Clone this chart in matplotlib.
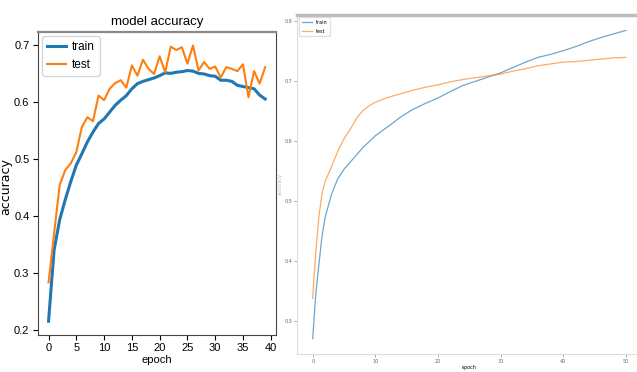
import matplotlib
matplotlib.use("Agg")
import matplotlib.pyplot as plt

# left chart: model accuracy per epoch (40 epochs)
epochs_a = list(range(40))
train_a = [0.215, 0.340, 0.393, 0.428, 0.460, 0.489, 0.509, 0.530, 0.547, 0.562,
           0.570, 0.582, 0.594, 0.603, 0.611, 0.623, 0.632, 0.636, 0.639, 0.642,
           0.646, 0.651, 0.650, 0.652, 0.653, 0.655, 0.654, 0.650, 0.649, 0.646,
           0.645, 0.638, 0.638, 0.636, 0.629, 0.627, 0.625, 0.623, 0.612, 0.605]
test_a = [0.283, 0.369, 0.454, 0.480, 0.492, 0.512, 0.556, 0.573, 0.566, 0.611,
          0.603, 0.623, 0.633, 0.638, 0.625, 0.664, 0.646, 0.674, 0.658, 0.649,
          0.680, 0.652, 0.697, 0.691, 0.696, 0.667, 0.699, 0.655, 0.670, 0.658,
          0.662, 0.643, 0.661, 0.658, 0.654, 0.666, 0.608, 0.654, 0.632, 0.661]

# right chart: longer run, 50 epochs
epochs_tr = [0, 0.5, 1, 1.5, 2, 3, 4, 5, 6, 7, 8, 9, 10, 12, 14, 16, 18, 20, 22, 24,
             26, 28, 30, 32, 34, 36, 38, 40, 42, 44, 46, 48, 50]
train_b = [0.270, 0.345, 0.395, 0.442, 0.473, 0.511, 0.537, 0.553, 0.565, 0.577,
           0.589, 0.599, 0.609, 0.624, 0.640, 0.653, 0.663, 0.672, 0.683, 0.693,
           0.700, 0.707, 0.714, 0.723, 0.732, 0.740, 0.745, 0.751, 0.758, 0.766,
           0.773, 0.779, 0.785]
epochs_te = [0, 0.25, 0.5, 1, 1.5, 2, 3, 4, 5, 6, 7, 8, 9, 10, 12, 14, 16, 18, 20,
             22, 24, 26, 28, 30, 32, 34, 36, 38, 40, 42, 44, 46, 48, 50]
test_b = [0.337, 0.377, 0.415, 0.475, 0.513, 0.533, 0.557, 0.583, 0.604, 0.620,
          0.638, 0.651, 0.659, 0.665, 0.673, 0.679, 0.685, 0.690, 0.694, 0.699,
          0.703, 0.706, 0.709, 0.712, 0.717, 0.721, 0.726, 0.729, 0.732, 0.733,
          0.735, 0.737, 0.739, 0.740]

narrow = 'Liberation Sans'

fig = plt.figure(figsize=(6.37, 3.72), dpi=100)

# ---- left panel
ax1 = fig.add_axes([0.0592, 0.0995, 0.3741, 0.8153])
ax1.plot(epochs_a, train_a, color='tab:blue', lw=2.2, label='train')
ax1.plot(epochs_a, test_a, color='tab:orange', lw=1.5, label='test')
ax1.set_title('model accuracy', fontsize=9.5, family=narrow, pad=5)
ax1.set_ylabel('accuracy', fontsize=9)
ax1.yaxis.set_label_coords(-0.105, 0.49)
ax1.set_xlabel('epoch', fontsize=8, family=narrow, labelpad=1)
ax1.set_xticks(range(0, 41, 5))
ax1.set_yticks([0.2, 0.3, 0.4, 0.5, 0.6, 0.7])
ax1.tick_params(length=3.5, pad=2.5)
for lab in ax1.get_xticklabels() + ax1.get_yticklabels():
    lab.set_fontsize(8)
    lab.set_family(narrow)
for s in ax1.spines.values():
    s.set_color('#444444')
ax1.spines['top'].set_color('#888888')
ax1.spines['top'].set_linewidth(1.6)
leg = ax1.legend(loc='upper left', prop={'family': narrow, 'size': 8.5}, handlelength=1.6,
                 handletextpad=0.5, borderaxespad=0.4)

# ---- right panel (extends past the image edge)
ax2 = fig.add_axes([0.4663, 0.0484, 0.5408, 0.9113])
ax2.plot(epochs_tr, train_b, color='tab:blue', lw=0.9, alpha=0.65, label='train')
ax2.plot(epochs_te, test_b, color='tab:orange', lw=0.9, alpha=0.65, label='test')
ax2.set_xlabel('epoch', fontsize=3.5, labelpad=1)
ax2.set_ylabel('accuracy', fontsize=3.5, color='#bbbbbb', labelpad=1)
ax2.set_xticks(range(0, 51, 10))
ax2.set_yticks([0.3, 0.4, 0.5, 0.6, 0.7, 0.8])
ax2.tick_params(labelsize=3.5, length=2, width=0.5, pad=1.5, colors='#888888',
                labelcolor='#666666')
for s in ax2.spines.values():
    s.set_color('#dddddd')
    s.set_linewidth(0.8)
ax2.spines['top'].set_color('#bdbdbd')
ax2.spines['top'].set_linewidth(2.5)
ax2.legend(loc='upper left', fontsize=3.5, handlelength=2, borderpad=0.5,
           labelspacing=0.8, framealpha=0.6)

fig.savefig('out.png', dpi=100)
